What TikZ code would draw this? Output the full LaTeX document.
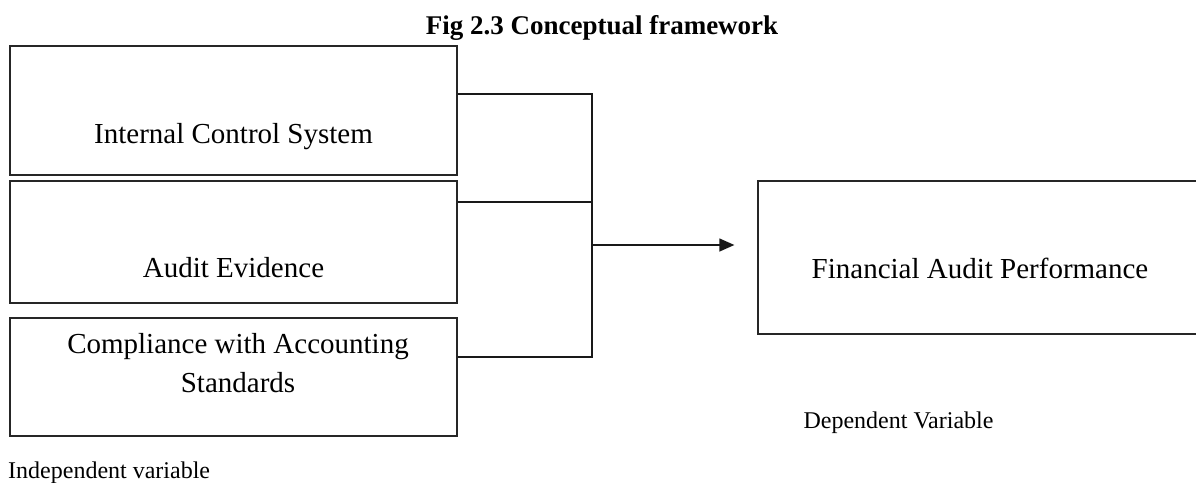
\documentclass[tikz,border=0pt]{standalone}
\usepackage{fontspec}
\setmainfont{Liberation Serif}
\usetikzlibrary{arrows.meta}

\tikzset{
  varbox/.style={draw=black!85, line width=1.3pt, rectangle, inner sep=0pt},
  link/.style={draw=black!90, line width=1.3pt},
  boxtext/.style={inner sep=0pt, anchor=base, align=center, font=\fontsize{29}{39}\selectfont},
  note/.style={inner sep=0pt, anchor=base, font=\fontsize{24}{28}\selectfont},
}

\begin{document}
\begin{tikzpicture}[x=1pt,y=-1pt]
    \useasboundingbox (0,0) rectangle (1196,482);

    % Title
    \node[inner sep=0pt, anchor=base, font=\bfseries\fontsize{27}{32}\selectfont] (title) at (602,34) {Fig 2.3 Conceptual framework};

    % Independent variables
    \node[varbox, minimum width=447pt, minimum height=129pt] (ics) at (233.5,110.5) {};
    \node[varbox, minimum width=447pt, minimum height=122pt] (evid) at (233.5,242) {};
    \node[varbox, minimum width=447pt, minimum height=118pt] (comp) at (233.5,377) {};
    \node[boxtext] (icsT) at (233.5,143) {Internal Control System};
    \node[boxtext] (evidT) at (233.5,277) {Audit Evidence};
    \node[boxtext] (compT) at (238,392) {Compliance with Accounting\\Standards};

    % Dependent variable
    \node[varbox, minimum width=440pt, minimum height=153pt] (perf) at (978,257.5) {};
    \node[boxtext] (perfT) at (980,278) {Financial Audit Performance};

    % Joining lines
    \coordinate (jtop) at (592,94);
    \coordinate (jmid) at (592,202);
    \coordinate (jbot) at (592,357);
    \coordinate (join) at (592,245);
    \draw[link] (ics.east |- jtop) -- (jtop) -- (jbot) -- (comp.east |- jbot);
    \draw[link] (evid.east |- jmid) -- (jmid);
    \draw[link, -{Triangle[length=15pt,width=13pt]}, shorten >=23pt] (join) -- (join -| perf.west);

    % Captions
    \node[note] (depT) at (898.5,428) {Dependent Variable};
    \node[note, anchor=base west] (indepT) at (8,478) {Independent variable};
\end{tikzpicture}
\end{document}
